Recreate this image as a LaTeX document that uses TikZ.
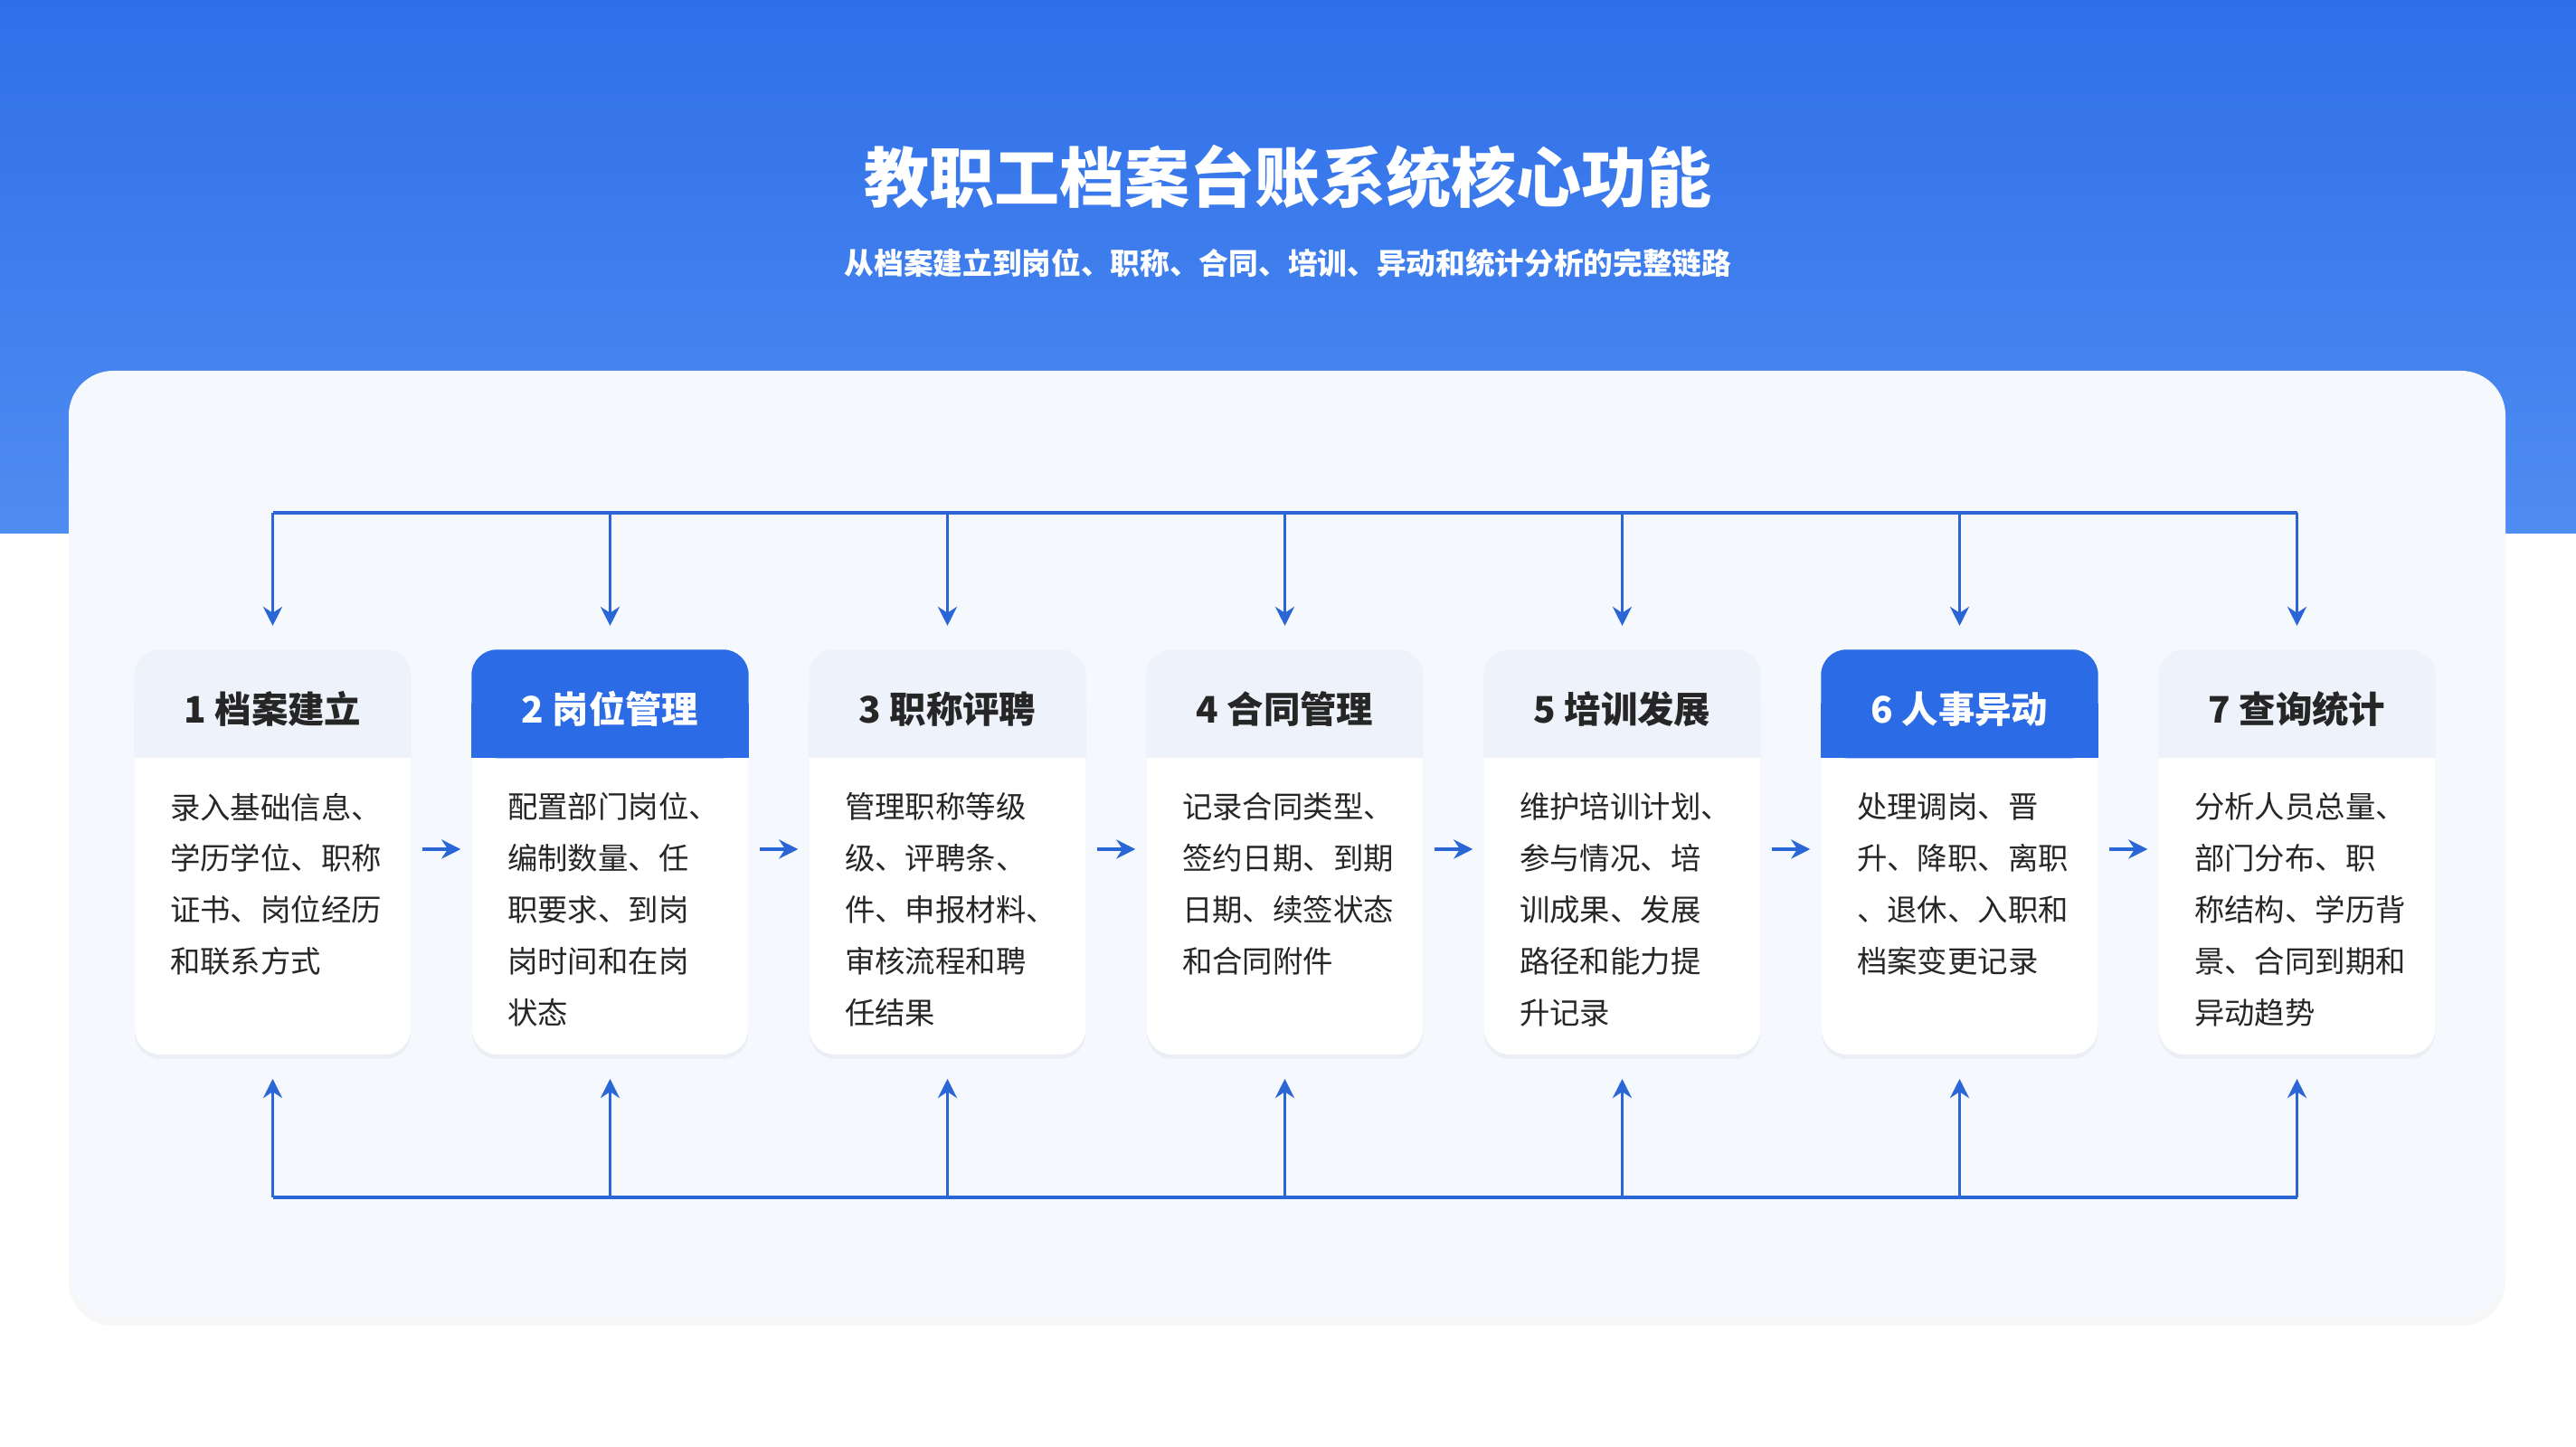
\documentclass[tikz,border=0pt]{standalone}
\usepackage{fontspec}
\setmainfont{Noto Sans CJK SC}
\usetikzlibrary{arrows.meta, positioning, shadows}
\definecolor{bandblue}{HTML}{2F6FE8}
\definecolor{bandlight}{HTML}{4F8CF2}
\definecolor{linkblue}{HTML}{2A66D6}
\definecolor{panelbg}{HTML}{F5F8FD}
\definecolor{headbg}{HTML}{EEF3FB}
\definecolor{headblue}{HTML}{2B6BE6}
\tikzset{
  card/.style={draw=none, fill=white, rounded corners=8pt, minimum width=3.05cm, minimum height=4.47cm,
    inner sep=0pt, drop shadow={shadow xshift=0pt, shadow yshift=-0.05cm, opacity=0.08}},
  head/.style={font=\bfseries\fontsize{11.5}{13}\selectfont, anchor=center},
  body/.style={font=\fontsize{9.5}{16.2}\selectfont, align=left, anchor=north west, inner sep=0pt},
  link/.style={draw=linkblue, line width=1.1pt, -{Stealth[length=6pt,width=6pt]}},
  bus/.style={draw=linkblue, line width=1.1pt}
}
\begin{document}
\begin{tikzpicture}
  \useasboundingbox (0,0) rectangle (28.48,16);
  \fill[white] (0,0) rectangle (28.48,16);
  \shade[top color=bandblue, bottom color=bandlight] (0,10.1) rectangle (28.48,16);
  \fill[panelbg, rounded corners=14pt, drop shadow={shadow xshift=0pt, shadow yshift=-0.1cm, opacity=0.06}] (0.76,1.44) rectangle (27.70,11.9);

  \node[font=\bfseries\fontsize{20.5}{24}\selectfont, text=white] (title) at (14.24,14.04) {教职工档案台账系统核心功能};
  \node[font=\bfseries\fontsize{9.3}{10}\selectfont, text=white] (subtitle) at (14.24,13.09) {从档案建立到岗位、职称、合同、培训、异动和统计分析的完整链路};

  % cards
  \foreach \i/\hd/\txt/\hl in {
    1/1 档案建立/{录入基础信息、\\学历学位、职称\\证书、岗位经历\\和联系方式}/0,
    2/2 岗位管理/{配置部门岗位、\\编制数量、任\\职要求、到岗\\岗时间和在岗\\状态}/1,
    3/3 职称评聘/{管理职称等级\\级、评聘条、\\件、申报材料、\\审核流程和聘\\任结果}/0,
    4/4 合同管理/{记录合同类型、\\签约日期、到期\\日期、续签状态\\和合同附件}/0,
    5/5 培训发展/{维护培训计划、\\参与情况、培\\训成果、发展\\路径和能力提\\升记录}/0,
    6/6 人事异动/{处理调岗、晋\\升、降职、离职\\、退休、入职和\\档案变更记录}/1,
    7/7 查询统计/{分析人员总量、\\部门分布、职\\称结构、学历背\\景、合同到期和\\异动趋势}/0} {
    \pgfmathsetmacro{\cx}{3.015+3.73*(\i-1)}
    \node[card] (c\i) at (\cx,6.575) {};
    \ifnum\hl=1
      \colorlet{hfill}{headblue}\colorlet{htext}{white}
    \else
      \colorlet{hfill}{headbg}\colorlet{htext}{black!85}
    \fi
    \fill[hfill, rounded corners=8pt] (c\i.north west) rectangle ([yshift=-1.2cm]c\i.north east);
    \fill[hfill] ([yshift=-0.6cm]c\i.north west) rectangle ([yshift=-1.2cm]c\i.north east);
    \node[head, text=htext] (h\i) at (\cx,8.16) {\hd};
    \node[body, text=black!85] (b\i) at (\cx-1.14,7.24) {\txt};
    \coordinate (t\i) at (\cx,10.33);
    \coordinate (ti\i) at (\cx,9.08);
    \coordinate (u\i) at (\cx,2.76);
    \coordinate (ui\i) at (\cx,4.07);
    \draw[link] (t\i) -- (ti\i);
    \draw[link] (u\i) -- (ui\i);
  }
  \draw[bus] (t1) -- (t7);
  \draw[bus] (u1) -- (u7);

  % flow arrows between cards
  \foreach \a/\b in {1/2,2/3,3/4,4/5,5/6,6/7} {
    \draw[link] ([xshift=0.12cm,yshift=0.035cm]c\a.east) -- ([xshift=-0.12cm,yshift=0.035cm]c\b.west);
  }
\end{tikzpicture}
\end{document}
